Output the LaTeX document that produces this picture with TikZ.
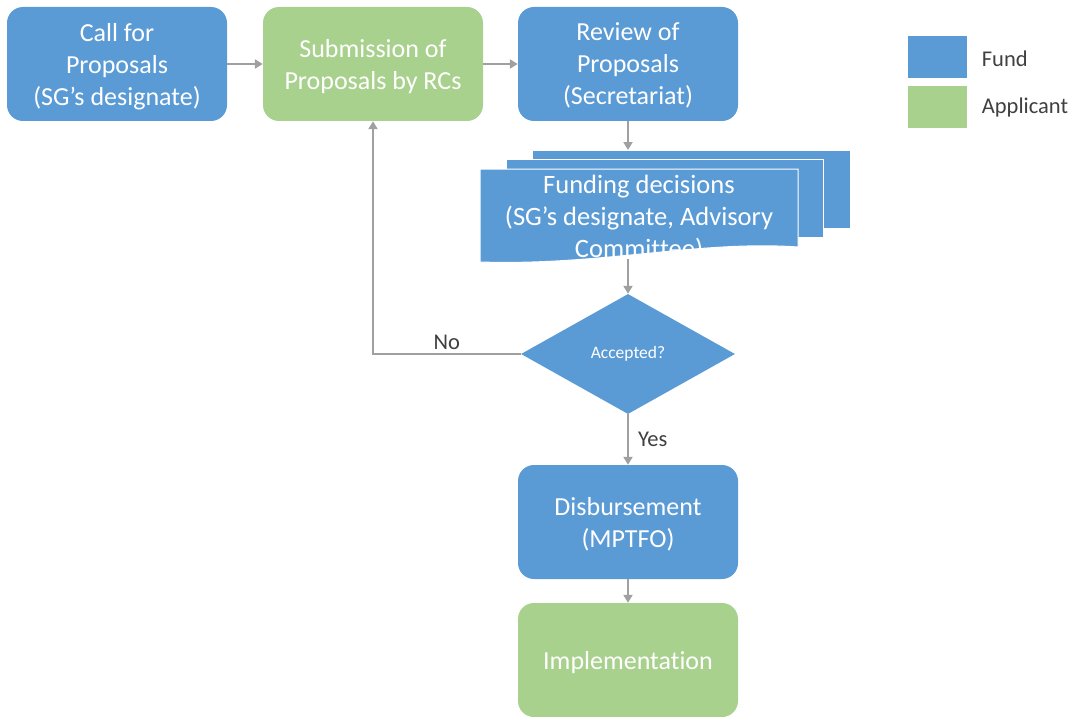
\documentclass[tikz,border=0pt]{standalone}
\usepackage{fontspec}
\setmainfont{Carlito}[Ligatures=NoCommon]
\usetikzlibrary{arrows.meta, positioning, shapes.geometric}

\definecolor{fundblue}{HTML}{5B9BD5}
\definecolor{applgreen}{HTML}{A9D18E}
\definecolor{flowgray}{HTML}{A0A0A0}
\definecolor{labelgray}{HTML}{404040}

\tikzset{
	box/.style={rounded corners=16pt, minimum width=220pt, minimum height=114pt, inner sep=2pt, text depth=-3pt, align=center, text=white, font=\fontsize{26}{32}\selectfont},
	fundbox/.style={box, fill=fundblue},
	applbox/.style={box, fill=applgreen},
	sheet/.style={fill=fundblue, draw=white, line width=1pt},
	key/.style={minimum width=59pt, minimum height=42pt, inner sep=0pt},
	lbl/.style={text=labelgray, inner sep=3pt, font=\fontsize{22.5}{26}\selectfont},
	flow/.style={draw=flowgray, line width=2pt},
}

\begin{document}
\begin{tikzpicture}[x=1pt,y=-1pt,on grid,>={Triangle[length=8pt,width=9pt]}]
	\useasboundingbox (0,0) rectangle (1072,717);
	
	\node (call) [fundbox] at (117,64) {Call for\\Proposals\\(SG’s designate)};
	\node (submit) [applbox, right=256pt of call] {Submission of\\Proposals by RCs};
	\node (review) [fundbox, right=255pt of submit] {Review of\\Proposals\\(Secretariat)};
	
	% stacked sheets
	\draw [sheet] (532,150) rectangle (850,228);
	\draw [sheet] (506,159) rectangle (823,237);
	\draw [sheet] (480,169) -- (798,169) -- (798,247) .. controls (700,240) and (600,266) .. (480,262) -- cycle;
	\node (fund) [align=center, text=white, font=\fontsize{26.5}{32}\selectfont] at (639,218) {Funding decisions\\(SG’s designate, Advisory\\Committee)};
	\coordinate (fundtop) at (628,150);
	\coordinate (fundbot) at (628,259);
	
	\node (accept) [diamond, fill=fundblue, minimum width=214pt, minimum height=120pt, inner sep=0pt, text=white, font=\fontsize{17.5}{20}\selectfont, below=290pt of review] {Accepted?};
	\node (disb) [fundbox, below=168pt of accept] {Disbursement\\(MPTFO)};
	\node (impl) [applbox, below=138pt of disb] {Implementation};
	
	% legend
	\node (fundkey) [key, fill=fundblue] at (937,57) {};
	\node (applkey) [key, fill=applgreen, below=50pt of fundkey] {};
	\node (fundtxt) [lbl, anchor=west] at ([xshift=12pt,yshift=-2pt]fundkey.east) {Fund};
	\node (appltxt) [lbl, anchor=west] at ([xshift=12pt,yshift=-1pt]applkey.east) {Applicant};
	
	\draw [flow, ->] (call) -- (submit);
	\draw [flow, ->] (submit) -- (review);
	\draw [flow, ->] (review) -- (fundtop);
	\draw [flow, ->] (fundbot) -- (accept);
	\draw [flow, ->] (accept) -- node [lbl, right, xshift=6pt] {Yes} (disb);
	\draw [flow, ->] (disb) -- (impl);
	\draw [flow, ->] (accept.west) -| node [lbl, pos=0.25, above] {No} (submit.south);
\end{tikzpicture}
\end{document}
